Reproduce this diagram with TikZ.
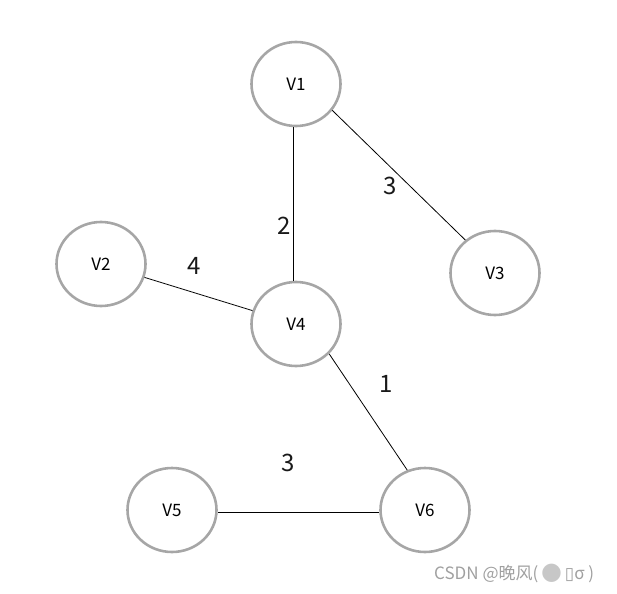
\documentclass[tikz,border=0pt]{standalone}
\usepackage{fontspec}
\setmainfont{Noto Sans CJK SC}
\newfontfamily\symfont{DejaVu Sans}
\usetikzlibrary{shapes.geometric}
\definecolor{ringgray}{HTML}{A6A6A6}
\definecolor{markgray}{HTML}{A0A0A0}
\tikzset{
  vertex/.style={ellipse, draw=ringgray, line width=2.6pt, minimum width=89pt, minimum height=84pt, inner sep=0pt, font=\fontsize{17}{19}\selectfont},
  edge/.style={draw=black, line width=0.8pt},
  weight/.style={font=\fontsize{24}{27}\selectfont, text=black!90},
}
\begin{document}
\begin{tikzpicture}[x=1pt,y=-1pt]
\useasboundingbox (0,0) rectangle (617,593);
\node[vertex] (v1) at (296,84) {V1};
\node[vertex] (v2) at (101,264) {V2};
\node[vertex] (v3) at (495,273) {V3};
\node[vertex] (v4) at (296,324) {V4};
\node[vertex] (v5) at (172,510) {V5};
\node[vertex] (v6) at (425,510) {V6};
\draw[edge] ([xshift=-3pt]v1.south) -- ([xshift=-3pt]v4.north);
\draw[edge] (v1.-36) -- (v3.132);
\draw[edge] (v2) -- (v4);
\draw[edge] (v4.-42) -- (v6.114);
\draw[edge] ([yshift=-2pt]v5.east) -- ([yshift=-2pt]v6.west);
\node[weight] (w14) at (284,226) {2};
\node[weight] (w13) at (390,186) {3};
\node[weight] (w24) at (194,266) {4};
\node[weight] (w46) at (386,384) {1};
\node[weight] (w56) at (288,463) {3};
\node[anchor=west, text=markgray, font=\fontsize{17}{19}\selectfont, inner sep=0pt] (mark) at (434,573) {CSDN @晚风(\,{\symfont\textcolor{black!22}{\fontsize{24}{24}\selectfont●}}\,{\symfont ▯}σ )};
\end{tikzpicture}
\end{document}
